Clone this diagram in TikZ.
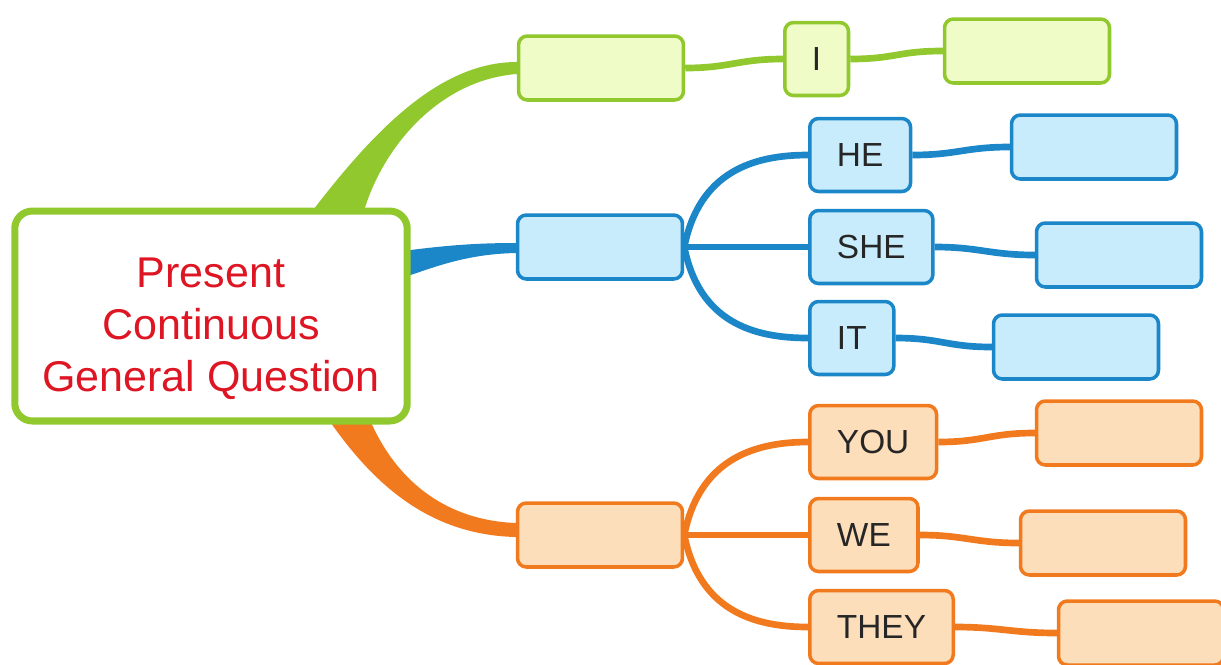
\documentclass[tikz,border=0pt]{standalone}
\usepackage{fontspec}
\setmainfont{Liberation Sans}
\usetikzlibrary{calc}
\pgfdeclarelayer{bg}
\pgfsetlayers{bg,main}
\definecolor{grn}{RGB}{145,200,45}
\definecolor{grnfill}{RGB}{240,252,200}
\definecolor{blu}{RGB}{27,134,200}
\definecolor{blufill}{RGB}{200,236,252}
\definecolor{org}{RGB}{242,122,30}
\definecolor{orgfill}{RGB}{253,222,186}
\definecolor{qred}{RGB}{222,22,36}
\begin{document}
\begin{tikzpicture}[x=0.02cm, y=-0.02cm,
    every node/.style={font=\fontsize{19}{23}\selectfont, text=black!85, rounded corners=5pt, line width=2pt},
    gbox/.style={draw=grn, fill=grnfill},
    bbox/.style={draw=blu, fill=blufill},
    obox/.style={draw=org, fill=orgfill},
    wide/.style={minimum width=3.3cm, minimum height=1.28cm},
    pron/.style={anchor=west, minimum height=1.46cm, inner xsep=15.5pt},
    gline/.style={draw=grn, line width=3.8pt},
    bline/.style={draw=blu, line width=3.8pt},
    oline/.style={draw=org, line width=3.8pt}]
    \useasboundingbox (0,0) rectangle (1221,664);

    \node[draw=grn, fill=white, line width=4pt, rounded corners=10pt, minimum width=7.85cm, minimum height=4.2cm,
          align=center, text=qred, font=\fontsize{24.5}{29.5}\selectfont] (ctr) at (211,316) {\rule{0pt}{31pt}Present\\Continuous\\General Question};

    \node[gbox, wide] (g1) at (601,68) {};
    \node[gbox, pron] (i) at (783,59) {I};
    \node[gbox, wide] (i2) at (1027,51) {};

    \node[bbox, wide] (b1) at (600,247) {};
    \node[bbox, pron] (he) at (808,155) {HE};
    \node[bbox, pron] (she) at (808,247) {SHE};
    \node[bbox, pron] (it) at (808,338) {IT};
    \node[bbox, wide] (he2) at (1094,147) {};
    \node[bbox, wide] (she2) at (1119,255) {};
    \node[bbox, wide] (it2) at (1076,347) {};

    \node[obox, wide] (o1) at (600,535) {};
    \node[obox, pron] (you) at (808,442) {YOU};
    \node[obox, pron] (we) at (808,535) {WE};
    \node[obox, pron] (they) at (808,627) {THEY};
    \node[obox, wide] (you2) at (1119,433) {};
    \node[obox, wide] (we2) at (1103,543) {};
    \node[obox, wide] (they2) at (1141,633) {};

    \begin{pgfonlayer}{bg}
    \fill[grn] ($(ctr.north)+(104,20)$) -- ($(ctr.north)+(104,0)$) .. controls (375,130) and (440,62) .. ($(g1.west)+(0,-6)$)
        -- ($(g1.west)+(0,6)$) .. controls (440,80) and (385,145) .. ($(ctr.north)+(154,0)$) -- ($(ctr.north)+(154,20)$) -- cycle;
    \fill[blu] ($(ctr.east)+(-15,-66)$) -- ($(ctr.east)+(0,-66)$) .. controls (450,245) and (480,243) .. ($(b1.west)+(0,-4)$)
        -- ($(b1.west)+(0,6)$) .. controls (470,254) and (440,265) .. ($(ctr.east)+(0,-41)$) -- ($(ctr.east)+(-15,-41)$) -- cycle;
    \fill[org] ($(ctr.south)+(121,-20)$) -- ($(ctr.south)+(121,0)$) .. controls (375,485) and (430,535) .. ($(o1.west)+(0,2)$)
        -- ($(o1.west)+(0,-12)$) .. controls (440,520) and (395,475) .. ($(ctr.south)+(161,0)$) -- ($(ctr.south)+(161,-20)$) -- cycle;

    \draw[gline] (g1.east) .. controls +(45,0) and +(-45,0) .. (i.west);
    \draw[gline] (i.east) .. controls +(45,0) and +(-45,0) .. (i2.west);

    \draw[bline] (b1.east) .. controls +(15,-75) and +(-55,0) .. (he.west);
    \draw[bline] (b1.east) -- (she.west);
    \draw[bline] (b1.east) .. controls +(15,75) and +(-55,0) .. (it.west);
    \draw[bline] (he.east) .. controls +(45,0) and +(-45,0) .. (he2.west);
    \draw[bline] (she.east) .. controls +(45,0) and +(-45,0) .. (she2.west);
    \draw[bline] (it.east) .. controls +(45,0) and +(-45,0) .. (it2.west);

    \draw[oline] (o1.east) .. controls +(15,-75) and +(-55,0) .. (you.west);
    \draw[oline] (o1.east) -- (we.west);
    \draw[oline] (o1.east) .. controls +(15,75) and +(-55,0) .. (they.west);
    \draw[oline] (you.east) .. controls +(45,0) and +(-45,0) .. (you2.west);
    \draw[oline] (we.east) .. controls +(45,0) and +(-45,0) .. (we2.west);
    \draw[oline] (they.east) .. controls +(45,0) and +(-45,0) .. (they2.west);
    \end{pgfonlayer}
\end{tikzpicture}
\end{document}
